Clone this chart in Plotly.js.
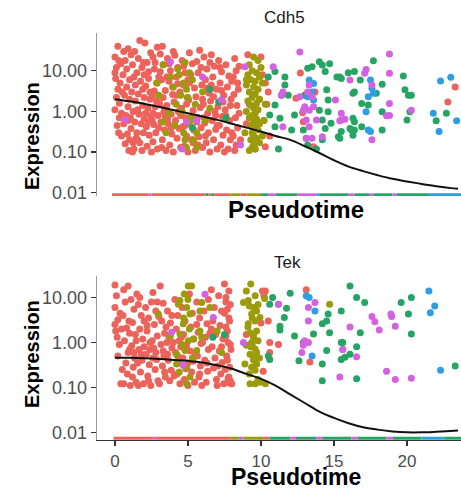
<!DOCTYPE html>
<html><head><meta charset="utf-8">
<script src="https://cdn.plot.ly/plotly-3.0.1.min.js"></script>
<style>html,body{margin:0;padding:0;background:#fff}#chart{width:461px;height:490px}</style>
</head><body><div id="chart"></div>
<script>
// ---- data (pseudotime, expression) ----
const cdh5Red = [[0.0,22],[0.1,12],[0.05,6.5],[0.2,3.5],[0.1,2.2],[0.0,1.1],[0.3,0.7],[0.15,0.45],[0.25,0.3],[0.4,15],[0.35,5],[0.0,9],[0.45,0.9],[0.2,40],[0.3,1.6],
[0.6,30],[0.7,18],[0.55,8],[0.8,4],[0.65,2.5],[0.9,1.3],[0.75,0.8],[0.6,0.5],[0.85,0.28],[0.7,0.16],[0.95,0.11],[0.8,11],[1.0,6],[0.9,0.6],[1.0,0.2],
[1.1,25],[1.2,14],[1.3,7],[1.15,3],[1.4,1.8],[1.25,1.0],[1.35,0.55],[1.1,0.38],[1.45,0.22],[1.3,0.12],[1.2,0.1],[1.5,9],[1.4,4.5],[1.05,0.7],[1.5,0.3],
[1.7,56],[1.6,20],[1.85,12],[1.75,5.5],[1.6,2.7],[1.9,1.4],[1.65,0.85],[1.8,0.5],[1.95,0.3],[1.7,0.17],[1.85,0.11],[2.0,8],[1.55,1.1],[1.9,3.5],[2.0,0.65],
[2.05,48],[2.2,16],[2.3,9.5],[2.1,4.2],[2.4,2.0],[2.25,1.2],[2.45,0.75],[2.15,0.42],[2.35,0.26],[2.2,0.14],[2.5,0.1],[2.3,6.5],[2.45,28],[2.1,0.9],[2.4,3],
[2.9,38],[2.6,22],[2.7,11],[2.85,5],[2.55,2.4],[2.75,1.3],[2.95,0.8],[2.65,0.48],[2.8,0.3],[2.6,0.18],[2.9,0.12],[3.0,7],[2.7,3.2],[2.85,1.8],[2.55,0.62],
[3.1,26],[3.3,14],[3.2,6],[3.45,3.3],[3.05,1.6],[3.35,0.95],[3.15,0.55],[3.4,0.35],[3.25,0.2],[3.5,0.11],[3.1,9.5],[3.3,2.2],[3.45,0.75],[3.2,0.13],
[3.6,20],[3.8,10],[3.7,5.5],[3.95,2.6],[3.55,1.4],[3.85,0.85],[3.65,0.5],[3.9,0.28],[3.75,0.15],[4.0,0.1],[3.7,15],[3.95,4],[3.6,0.65],
[4.1,24],[4.3,12],[4.2,7],[4.45,3],[4.05,1.7],[4.35,1.0],[4.15,0.6],[4.4,0.38],[4.25,0.22],[4.5,0.13],[4.3,4.8],[4.1,0.45],
[4.6,18],[4.8,9],[4.7,4.5],[4.95,2.2],[4.55,1.2],[4.85,0.7],[4.65,0.42],[4.9,0.25],[4.75,0.14],[5.0,0.1],[4.7,13],[4.9,1.5],
[5.1,28],[5.3,15],[5.2,8],[5.45,3.8],[5.05,1.9],[5.35,1.05],[5.15,0.62],[5.4,0.35],[5.25,0.2],[5.5,0.11],[5.3,0.8],[5.1,5],
[5.8,32],[5.6,17],[5.7,9],[5.95,4.5],[5.55,2.3],[5.85,1.25],[5.65,0.72],[5.9,0.4],[5.75,0.24],[6.0,0.13],[5.6,0.55],[5.9,12],
[6.1,22],[6.3,11],[6.2,6],[6.45,2.8],[6.05,1.5],[6.35,0.9],[6.15,0.52],[6.4,0.3],[6.25,0.17],[6.5,0.1],[6.3,3.8],[6.1,0.7],
[6.6,25],[6.8,13],[6.7,7],[6.95,3.5],[6.55,1.8],[6.85,1.0],[6.65,0.6],[6.9,0.36],[6.75,0.2],[7.0,0.12],[6.6,4.5],[6.9,0.8],
[7.1,18],[7.3,9.5],[7.2,5],[7.45,2.5],[7.05,1.3],[7.35,0.75],[7.15,0.45],[7.4,0.26],[7.25,0.15],[7.5,0.1],[7.2,12],[7.4,1.7],
[7.6,14],[7.8,7.5],[7.7,4],[7.95,2],[7.55,1.1],[7.85,0.6],[7.65,0.35],[7.9,0.2],[7.75,0.12],[8.0,5.5],[7.6,0.8],
[8.2,20],[8.3,10],[8.4,5],[8.15,2.6],[8.35,1.4],[8.25,0.7],[8.4,0.4],[8.1,0.25],[8.3,0.15],[8.2,0.11],[8.45,3.5],[8.5,0.9],
[9.1,25],[9.2,1.5],[9.0,0.5],[9.6,0.12],[9.9,2],[10.0,22],[10.1,8],[10.3,5],[10.2,0.6],[10.4,1.5],[10.5,3],[10.6,0.25],
[10.3,0.135],[12.7,8.8],[12.4,2.1],[12.85,0.93],[13.1,2.7],[13.7,3],[12.9,0.56],[13.6,0.135],[23.3,4.0],[22.8,1.7],
[0.25,18],[0.5,3],[0.45,0.25],[0.9,35],[1.0,2],[1.25,0.17],[1.35,30],[1.55,0.2],[1.95,16],[2.0,2.2],[2.3,0.55],[2.6,0.9],[2.75,16],[3.0,0.4],[3.25,40],[3.4,1.2],[3.55,7],[3.85,0.4],[4.0,30],[4.2,2.5],[4.5,0.8],[4.8,0.45],[5.0,6],[5.35,0.17],[5.7,0.15],[6.0,2.0],[6.2,0.25],[6.5,16],[6.75,2.3],[7.0,0.45],[7.3,3.3],[7.5,0.65],[7.9,1.4],[8.0,0.3],[8.5,13],[8.6,0.2],[8.1,7]];

const cdh5Olive = [[3.3,14],[4.8,16],[5.1,9],[4.4,8],[4.7,5],[4.5,2.5],[5.0,2.2],[4.6,1.0],[5.1,0.5],[4.8,0.2],[4.9,0.13],[5.6,0.13],[3.5,0.3],[3.3,0.55],[3.0,2.5],[2.9,5],[4.2,1.5],[5.6,0.3],[4.0,4],[4.3,11],[5.3,6],[5.5,1.5],[3.7,0.9],[4.1,0.45],[5.2,0.7],[6.0,3],[6.2,0.6],[4.9,3.5],[4.7,0.3],[5.4,0.2],[3.8,7],[6.5,1.2],
[9.5,22],[9.8,18],[9.2,14],[10.0,12],[9.4,10],[9.7,9],[9.1,8],[9.9,7],[9.3,6],[9.6,5.5],[10.1,5],[9.0,4.5],[9.5,4],[9.8,3.5],[9.2,3],[9.6,2.7],[9.4,2.2],[9.9,2],[9.1,1.8],[9.7,1.6],[9.3,1.4],[9.5,1.2],[9.8,1.1],[9.0,1.0],[9.6,0.9],[9.4,0.8],[9.2,0.7],[9.7,0.65],[9.5,0.55],[9.9,0.5],[9.3,0.45],[9.6,0.4],[9.8,0.35],[9.4,0.3],[9.5,0.25],[9.7,0.22],[9.3,0.2],[9.6,0.18],[9.5,0.15],[9.4,0.13],[9.6,0.12],[9.2,0.11],[10.2,0.6],[10.3,1.5],[8.9,0.3],[9.0,6],[10.1,0.25],[9.9,0.17]];

const cdh5Green = [[10.5,7],[10.96,9.6],[11.64,7],[11.64,4.5],[11.4,2.5],[11.87,2.5],[10.96,1.45],[10.6,0.82],[11.3,0.68],[10.96,0.42],[12.1,0.35],[11.2,0.12],[12.3,0.82],[13.0,2.5],[13.2,11.5],[13.5,12.5],[14.0,16.6],[14.2,13.8],[14.4,9.6],[14.7,15],[14.5,3.4],[14.6,1.9],[14.0,1.07],[14.2,0.62],[14.6,0.98],[14.8,0.51],[14.4,0.38],[14.2,0.2],[13.8,0.12],[13.2,0.15],[12.9,0.35],[13.1,0.22],[15.2,7],[15.4,7],[15.3,0.24],
[17.7,17.7],[16.4,9.6],[15.98,9],[16.8,5.9],[15.5,6.5],[16.4,3.0],[16.3,2.8],[16.9,1.58],[17.35,1.45],[18.3,4.7],[17.9,2.8],[19.75,7.4],[19.86,3.4],[20.1,2.5],[20.3,2.5],[20.2,0.98],[20.0,0.62],[18.3,0.98],[16.3,0.68],[16.4,0.56],[16.1,0.38],[16.4,0.35],[16.2,0.35],[16.9,0.42],[16.3,0.26],[15.5,0.32],[15.4,0.22],[18.3,0.35],[22.0,0.59],[22.7,0.9],
[6.5,3.5],[7.1,1.7],[7.3,1.9],[5.3,0.4],[7.6,0.7]];

const cdh5Blue = [[13.3,5.9],[13.6,4.9],[13.5,3.0],[13.2,2.3],[13.6,1.9],[17.5,5.9],[17.6,3.7],[17.7,2.8],[17.35,2.3],[17.2,0.98],[17.35,0.35],[17.5,0.32],[22.3,5.6],[23.0,6.9],[21.8,0.9],[23.4,0.59],[22.2,0.32]];

const cdh5Magenta = [[12.66,29],[10.84,12.5],[8.9,12.5],[11.5,3.0],[11.4,2.5],[12.66,2.3],[13.3,4.5],[13.2,3.0],[13.5,2.3],[13.0,1.3],[13.3,1.07],[13.6,1.3],[12.9,1.07],[13.1,0.62],[13.8,0.62],[13.3,0.42],[13.1,0.22],[13.5,0.22],[14.2,0.24],[15.1,1.9],[15.5,0.62],[7.3,1.9],[8.6,0.15],[11.5,0.42],
[18.8,26],[18.8,8.7],[17.1,8.7],[17.2,10.8],[16.1,5.9],[17.6,4.5],[18.8,1.58],[18.6,0.78],[18.8,0.8],[20.3,1.07],[15.5,0.9],[15.75,0.64],[15.4,0.59],[17.6,0.2],
[3.8,16.6],[6.0,7],[0.7,0.62],[4.9,0.56],[5.6,0.6],[4.6,0.12]];

const tekRed = [[0.0,19],[0.1,11],[0.0,6],[0.2,3.2],[0.05,1.8],[0.3,0.9],[0.0,2.5],[0.2,0.5],[0.4,0.12],[0.35,4.5],[0.15,1.3],
[0.6,15],[0.9,18],[0.7,8],[0.55,4],[0.8,2.1],[0.65,1.1],[0.9,0.6],[0.75,0.35],[0.85,0.2],[0.6,0.12],[1.0,0.7],[0.95,3],
[1.1,9],[1.3,5.5],[1.2,2.8],[1.4,1.5],[1.15,0.85],[1.35,0.45],[1.25,0.28],[1.45,0.13],[1.05,0.11],[1.5,12],[1.3,0.6],[1.45,1.1],
[1.6,7],[1.8,4],[1.7,2],[1.9,1.2],[1.65,0.7],[1.85,0.4],[1.75,0.22],[1.95,0.12],[1.6,0.11],[2.0,3],[1.8,0.55],[1.7,10],
[2.1,6],[2.3,3.5],[2.2,1.8],[2.4,1.0],[2.15,0.55],[2.35,0.32],[2.25,0.18],[2.45,0.11],[2.5,8],[2.2,2.4],[2.4,0.7],
[2.6,13],[2.8,5],[2.7,2.5],[2.9,1.4],[2.65,0.75],[2.85,0.42],[2.75,0.25],[2.95,0.14],[2.55,1.1],[3.0,3.8],[2.8,0.6],
[3.1,18],[3.3,7.5],[3.2,3],[3.4,1.6],[3.15,0.9],[3.35,0.5],[3.25,0.3],[3.45,0.17],[3.05,0.12],[3.5,2.2],[3.3,0.65],
[3.6,5],[3.8,2.7],[3.7,1.3],[3.9,0.75],[3.65,0.4],[3.85,0.24],[3.75,0.14],[4.0,1.0],[3.6,0.55],
[4.1,9],[4.3,4],[4.2,2],[4.4,1.1],[4.15,0.6],[4.35,0.35],[4.25,0.2],[4.45,0.12],[4.5,0.8],
[4.6,6],[4.8,3],[4.7,1.5],[4.9,0.85],[4.65,0.45],[4.85,0.26],[4.75,0.15],[5.0,0.11],
[5.1,12],[5.3,4.5],[5.2,2.2],[5.4,1.2],[5.15,0.65],[5.35,0.38],[5.25,0.22],[5.45,0.13],
[5.6,8],[5.8,3.5],[5.7,1.7],[5.9,0.95],[5.65,0.5],[5.85,0.3],[5.75,0.17],[5.95,0.11],[5.6,2.5],
[6.1,5],[6.3,2.6],[6.2,1.3],[6.4,0.7],[6.15,0.4],[6.35,0.23],[6.25,0.13],[6.5,1.6],[6.4,9],
[6.6,15],[6.8,6],[6.7,3],[6.9,1.5],[6.65,0.8],[6.85,0.45],[6.75,0.27],[6.95,0.15],[7.0,0.11],
[7.1,11],[7.3,5],[7.2,2.4],[7.4,1.2],[7.15,0.65],[7.35,0.36],[7.25,0.2],[7.45,0.12],
[7.6,8],[7.8,3.5],[7.7,1.8],[7.9,0.9],[7.65,0.5],[7.85,0.28],[7.75,0.16],[7.95,0.12],[7.6,2.2],
[7.5,20],[7.8,14],[7.6,10],[7.9,7],[7.7,5.5],[7.5,4.5],[7.85,3],[7.6,1.4],[7.75,1.0],[7.95,0.7],[7.7,0.4],[7.55,0.25],[7.8,0.17],[7.9,0.14],[8.0,0.12],
[10.1,14],[10.3,14],[10.2,11],[10.0,2.7],[10.5,3.0],[10.6,1.0],[10.6,0.6],[10.15,0.23],[11.2,0.9],[13.35,0.37],[13.1,15],[9.0,1.5],
[0.45,2],[0.5,0.25],[1.0,1.6],[1.2,0.17],[1.55,0.35],[2.0,0.8],[2.3,0.14],[2.6,0.45],[2.9,8],[3.4,0.22],[3.55,1.0],[3.9,4],[4.05,0.18],[4.3,0.5],[4.55,1.3],[5.0,0.35],[5.5,0.6],[5.8,0.2],[6.0,1.0],[6.3,0.35],[6.6,2],[7.05,0.3],[7.3,0.8],[7.7,0.13]];

const tekOlive = [[5.02,18],[5.25,18],[4.45,8.6],[4.34,7.1],[4.91,6],[5.14,4.3],[4.68,2.6],[4.45,1.55],[5.02,1.1],[4.8,0.66],[4.22,0.33],[4.91,0.28],[5.14,0.17],[4.91,0.12],[5.94,7.8],[5.82,5],[2.97,4.3],[5.82,1.8],[5.94,1.3],[5.37,1.2],[4.22,0.55],[5.6,0.66],[4.7,3.5],[5.1,2.0],[4.6,0.9],[5.3,0.45],[4.4,0.22],[5.0,9],[4.75,12],[6.5,6],[7.0,1.8],[7.3,0.6],[3.8,1.4],
[9.3,20],[8.8,7.8],[9.13,8.6],[9.48,6],[9.7,5],[9.36,4.3],[9.93,3.6],[9.6,3.0],[9.13,2.6],[9.25,1.65],[9.48,1.3],[9.8,1.1],[9.36,1.0],[9.0,0.87],[9.6,0.72],[9.25,0.55],[9.48,0.47],[9.7,0.33],[9.36,0.28],[8.9,0.33],[9.6,0.24],[9.25,0.12],[9.6,0.12],[9.93,0.13],[10.3,0.12],[10.25,9.5],[14.7,7.1],
[9.0,14],[9.6,11],[9.2,6.5],[9.8,7],[9.4,3.5],[9.1,2.2],[9.7,1.8],[9.5,1.5],[9.3,0.8],[9.7,0.6],[9.5,0.4],[9.2,0.2],[9.8,0.15],[9.4,0.9],[9.9,0.45]];

const tekGreen = [[10.6,7.1],[10.8,10],[11.2,7.1],[11.75,5.8],[11.6,3.6],[11.3,2.3],[11.3,1.9],[10.6,0.42],[10.5,0.5],[12.0,12.4],[12.3,1.4],[12.6,0.39],[12.9,1.0],[13.6,1.55],[14.2,2.6],[14.5,3.0],[14.6,4.3],[14.7,1.65],[14.2,0.33],[14.5,0.66],[14.2,0.14],[15.5,5],[15.6,1.0],[15.5,0.42],
[16.1,18],[16.55,10],[17.1,7.8],[16.8,1.65],[19.6,7.8],[20.3,10],[20.1,4.3],[20.3,1.55],[15.5,1.0],[16.55,0.8],[15.75,0.47],[16.1,0.55],[16.55,0.155],[23.3,0.3],[7.5,1.5],[6.7,1.3]];

const tekBlue = [[13.1,11],[13.3,10],[13.7,5],[13.5,0.5],[21.5,14],[21.9,6.5],[21.6,4.6],[22.3,0.24]];

const tekMagenta = [[11.2,7.1],[13.25,6],[13.7,7.8],[13.25,3.0],[13.0,1.1],[12.9,0.87],[12.8,0.6],[13.25,1.0],[8.8,1.0],[15.4,0.17],[15.6,0.7],
[17.6,3.8],[17.8,2.9],[18.1,1.9],[16.1,2.2],[18.9,4.3],[18.95,3.8],[19.2,2.3],[15.6,0.7],[16.55,0.48],[18.6,0.23],[19.2,0.15],[20.3,0.16],
[6.17,11.8],[6.74,3.6],[3.88,1.7],[4.68,0.31]];

// zero-expression cells along the bottom of each panel: [from, to, group]
const cdh5Zero = [[-0.2,2.3,'r'],[2.3,2.5,'m'],[2.5,6.2,'r'],[6.2,6.4,'g'],[6.4,6.6,'r'],[6.6,6.8,'g'],[6.8,7.9,'r'],[7.9,8.6,'o'],[8.6,9.0,'r'],[9.0,10.0,'o'],[10.0,10.5,'g'],[10.5,11.0,'m'],[11.0,12.5,'g'],[12.5,13.8,'m'],[13.8,14.0,'b'],[14.0,16.0,'g'],[16.0,16.4,'m'],[16.4,17.4,'g'],[17.4,17.7,'m'],[17.7,19.0,'g'],[19.0,19.3,'m'],[19.3,21.5,'g'],[21.5,23.7,'b']];
const tekZero = [[-0.1,2.6,'r'],[2.6,2.8,'m'],[2.8,7.9,'r'],[7.9,8.5,'o'],[8.5,8.8,'m'],[8.8,10.2,'o'],[10.2,10.6,'r'],[10.6,12.0,'g'],[12.0,12.4,'m'],[12.4,13.8,'g'],[13.8,14.2,'m'],[14.2,16.2,'g'],[16.2,16.6,'m'],[16.6,18.6,'g'],[18.6,19.0,'m'],[19.0,21.0,'g'],[21.0,22.5,'b'],[22.5,23.7,'g']];
const cdh5ZeroLevel = 0.0089;
const tekZeroLevel = 0.0074;

const cdh5CurveX = [0,1,2,3,4,5,6,7,8,9,10,11,12,13,14,15,16,17,18,19,20,21,22,23,23.5];
const cdh5CurveY = [2.0,1.78,1.55,1.3,1.08,0.9,0.75,0.62,0.5,0.4,0.32,0.25,0.2,0.14,0.095,0.063,0.044,0.034,0.027,0.022,0.019,0.0165,0.0145,0.013,0.0125];
const tekCurveX = [0,1,2,3,4,5,6,7,8,9,10,11,12,13,14,15,16,17,18,19,20,21,22,23,23.5];
const tekCurveY = [0.46,0.455,0.445,0.43,0.41,0.39,0.36,0.31,0.26,0.2,0.155,0.11,0.07,0.045,0.029,0.021,0.016,0.013,0.0115,0.0105,0.010,0.010,0.0103,0.0107,0.011];

const tickVals = [0.01,0.1,1,10];
const tickText = ['0.01','0.10','1.00','10.00'];
const xTickVals = [0,5,10,15,20];
const panelTitles = ['Cdh5','Tek'];

// ---- style ----
const colors = {r:'#EC635B', o:'#9C9B0C', g:'#26A463', b:'#2E9DE3', m:'#D462E0'};
const FONT = 'Liberation Sans, Arial, sans-serif';

const traces = [];
function addPanel(sets, zero, zeroLevel, cx, cy, xa, ya){
  zero.forEach(function(s){
    traces.push({type:'scatter', mode:'lines', x:[s[0], s[1]], y:[zeroLevel, zeroLevel],
      xaxis:xa, yaxis:ya, line:{color:colors[s[2]], width:3}, hoverinfo:'skip', showlegend:false});
  });
  sets.forEach(function(st){
    traces.push({type:'scatter', mode:'markers', x:st[1].map(p=>p[0]), y:st[1].map(p=>p[1]),
      xaxis:xa, yaxis:ya, marker:{color:colors[st[0]], size:7, line:{width:0}}, showlegend:false});
  });
  traces.push({type:'scatter', mode:'lines', x:cx, y:cy, xaxis:xa, yaxis:ya,
    line:{color:'#111', width:2, shape:'spline'}, showlegend:false});
}
addPanel([['r',cdh5Red],['o',cdh5Olive],['g',cdh5Green],['b',cdh5Blue],['m',cdh5Magenta]], cdh5Zero, cdh5ZeroLevel, cdh5CurveX, cdh5CurveY, 'x2','y2');
addPanel([['r',tekRed],['o',tekOlive],['g',tekGreen],['b',tekBlue],['m',tekMagenta]], tekZero, tekZeroLevel, tekCurveX, tekCurveY, 'x','y');

const yBase = {type:'log', tickvals:tickVals, ticktext:tickText, showgrid:false, zeroline:false,
  showline:true, linecolor:'#9a9a9a', linewidth:1.3, ticks:'outside', ticklen:5, tickwidth:1.3, tickcolor:'#333',
  tickfont:{family:FONT, size:18, color:'#4d4d4d'}};

const layout = {
  width:461, height:490, paper_bgcolor:'#fff', plot_bgcolor:'#fff',
  margin:{l:97, r:0, t:33, b:50},
  showlegend:false,
  xaxis:{anchor:'y', domain:[0,1], range:[-1.23,23.7], tickvals:xTickVals, showgrid:false, zeroline:false,
    showline:true, linecolor:'#333', linewidth:1.3, ticks:'outside', ticklen:5, tickwidth:1.3, tickcolor:'#333',
    tickfont:{family:FONT, size:17, color:'#4d4d4d'}},
  xaxis2:{anchor:'y2', domain:[0,1], range:[-1.23,23.7], showgrid:false, zeroline:false, showline:false,
    showticklabels:false, ticks:''},
  yaxis:Object.assign({}, yBase, {anchor:'x', domain:[0,0.403], range:[-2.17,1.48]}),
  yaxis2:Object.assign({}, yBase, {anchor:'x2', domain:[0.5995,1], range:[-2.08,1.93]}),
  annotations:[
    {text:panelTitles[0], xref:'paper', yref:'paper', x:(284-97)/364, y:(440-18)/407, xanchor:'center', yanchor:'middle', showarrow:false, font:{family:FONT, size:17, color:'#1a1a1a'}},
    {text:panelTitles[1], xref:'paper', yref:'paper', x:(287-97)/364, y:(440-262)/407, xanchor:'center', yanchor:'middle', showarrow:false, font:{family:FONT, size:17, color:'#1a1a1a'}},
    {text:'<b>Pseudotime</b>', xref:'paper', yref:'paper', x:(296-97)/364, y:(440-209)/407, xanchor:'center', yanchor:'middle', showarrow:false, font:{family:FONT, size:24, color:'#000'}},
    {text:'<b>Pseudotime</b>', xref:'paper', yref:'paper', x:(296-97)/364, y:(440-477)/407, xanchor:'center', yanchor:'middle', showarrow:false, font:{family:FONT, size:23, color:'#000'}},
    {text:'<b>Expression</b>', xref:'paper', yref:'paper', x:(32-97)/364, y:(440-136)/407, xanchor:'center', yanchor:'middle', textangle:-90, showarrow:false, font:{family:FONT, size:20, color:'#000'}},
    {text:'<b>Expression</b>', xref:'paper', yref:'paper', x:(32-97)/364, y:(440-354)/407, xanchor:'center', yanchor:'middle', textangle:-90, showarrow:false, font:{family:FONT, size:20, color:'#000'}}
  ]
};

Plotly.newPlot('chart', traces, layout, {displayModeBar:false, staticPlot:true});
</script></body></html>
